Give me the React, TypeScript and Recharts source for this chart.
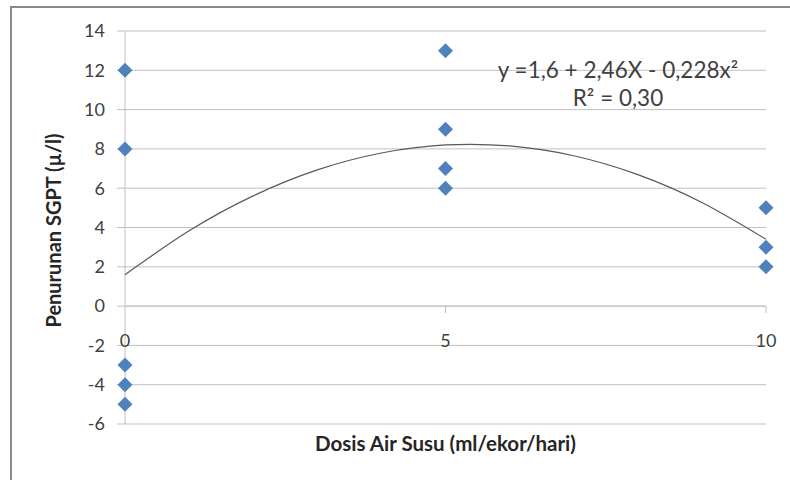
import React from 'react';
import { ScatterChart, Scatter, XAxis, YAxis, CartesianGrid, ReferenceLine } from 'recharts';

// Doses (x) and observed SGPT decrease (y)
const dose0Values = [12, 8, -3, -4, -5];
const dose5Values = [13, 9, 7, 6];
const dose10Values = [5, 3, 2];

// Trend curve (y = 1,6 + 2,46X - 0,228x²)
const curveX = [0, 1, 2, 3, 4, 5, 6, 7, 8, 9, 10];
const curveY = [1.6, 3.83, 5.61, 6.93, 7.79, 8.2, 8.15, 7.65, 6.69, 5.27, 3.4];

const xTicks = [0, 5, 10];
const yTicks = [-6, -4, -2, 0, 2, 4, 6, 8, 10, 12, 14];

const xTitle = 'Dosis Air Susu (ml/ekor/hari)';
const yTitle = 'Penurunan SGPT (µ/l)';
const equationLine1 = 'y =1,6 + 2,46X - 0,228x²';
const equationLine2 = 'R² = 0,30';

const points = [
  ...dose0Values.map((y) => ({ x: 0, y })),
  ...dose5Values.map((y) => ({ x: 5, y })),
  ...dose10Values.map((y) => ({ x: 10, y })),
];
const curve = curveX.map((x, i) => ({ x, y: curveY[i] }));

const FONT = 'Lato, "Open Sans", sans-serif';
const TEXT = '#404040';
const GRID = '#c0c0c0';
const FRAME = '#8a8a8a';

const Diamond = (props: any) => {
  const { cx, cy } = props;
  const r = 7.5;
  return (
    <polygon
      points={`${cx},${cy - r} ${cx + r},${cy} ${cx},${cy + r} ${cx - r},${cy}`}
      fill="#4f81bd"
    />
  );
};

const XTick = (props: any) => {
  const { x, y, payload } = props;
  return (
    <g>
      {payload.value !== 0 && (
        <line x1={x} x2={x} y1={y - 118} y2={y - 111} stroke={GRID} />
      )}
      <text x={x} y={y - 77} textAnchor="middle" fontSize={18} fill={TEXT} fontFamily={FONT}>
        {payload.value}
      </text>
    </g>
  );
};

const XTitle = (props: any) => {
  const { viewBox } = props;
  return (
    <text
      x={viewBox.x + viewBox.width / 2}
      y={viewBox.y + 27}
      textAnchor="middle"
      fontSize={20.5}
      fontWeight="bold"
      fill="#262626"
      fontFamily={FONT}
    >
      {xTitle}
    </text>
  );
};

const YTitle = (props: any) => {
  const { viewBox } = props;
  const cx = viewBox.x - 4;
  const cy = viewBox.y + viewBox.height / 2 + 3;
  return (
    <text
      x={cx}
      y={cy}
      transform={`rotate(-90, ${cx}, ${cy})`}
      textAnchor="middle"
      fontSize={20}
      fontWeight="bold"
      fill="#262626"
      fontFamily={FONT}
    >
      {yTitle}
    </text>
  );
};

export default function App() {
  return (
    <div style={{ position: 'absolute', left: 0, top: 0, width: 790, height: 480, background: '#fff', overflow: 'hidden' }}>
      <div style={{ position: 'absolute', left: 10, top: 6, width: 780, height: 2, background: FRAME }} />
      <div style={{ position: 'absolute', left: 10, top: 6, width: 2, height: 474, background: FRAME }} />
      <div style={{ position: 'absolute', left: 0, top: 0 }}>
        <ScatterChart width={790} height={480} margin={{ top: 31, right: 24, bottom: 0, left: 65 }}>
          <CartesianGrid horizontal vertical={false} stroke={GRID} />
          <XAxis
            type="number"
            dataKey="x"
            domain={[0, 10]}
            ticks={xTicks}
            height={56}
            axisLine={false}
            tickLine={false}
            tickSize={0}
            tickMargin={0}
            tick={<XTick />}
            interval={0}
            label={<XTitle />}
          />
          <YAxis
            type="number"
            dataKey="y"
            domain={[-6, 14]}
            ticks={yTicks}
            width={60}
            interval={0}
            axisLine={{ stroke: GRID }}
            tickLine={{ stroke: GRID }}
            tickSize={8}
            tickMargin={12}
            tick={{ fontSize: 18, fill: TEXT, fontFamily: FONT }}
            label={<YTitle />}
          />
          <ReferenceLine y={0} stroke={GRID} />
          <Scatter
            data={curve}
            line={{ stroke: '#595959', strokeWidth: 1.2 }}
            lineJointType="natural"
            shape={() => null}
            isAnimationActive={false}
          />
          <Scatter data={points} shape={<Diamond />} isAnimationActive={false} />
        </ScatterChart>
      </div>
      <div
        style={{
          position: 'absolute',
          left: 618,
          top: 56,
          transform: 'translateX(-50%)',
          textAlign: 'center',
          fontFamily: FONT,
          fontSize: 22.5,
          lineHeight: '28px',
          color: TEXT,
          whiteSpace: 'nowrap',
        }}
      >
        <div>{equationLine1}</div>
        <div>{equationLine2}</div>
      </div>
    </div>
  );
}
